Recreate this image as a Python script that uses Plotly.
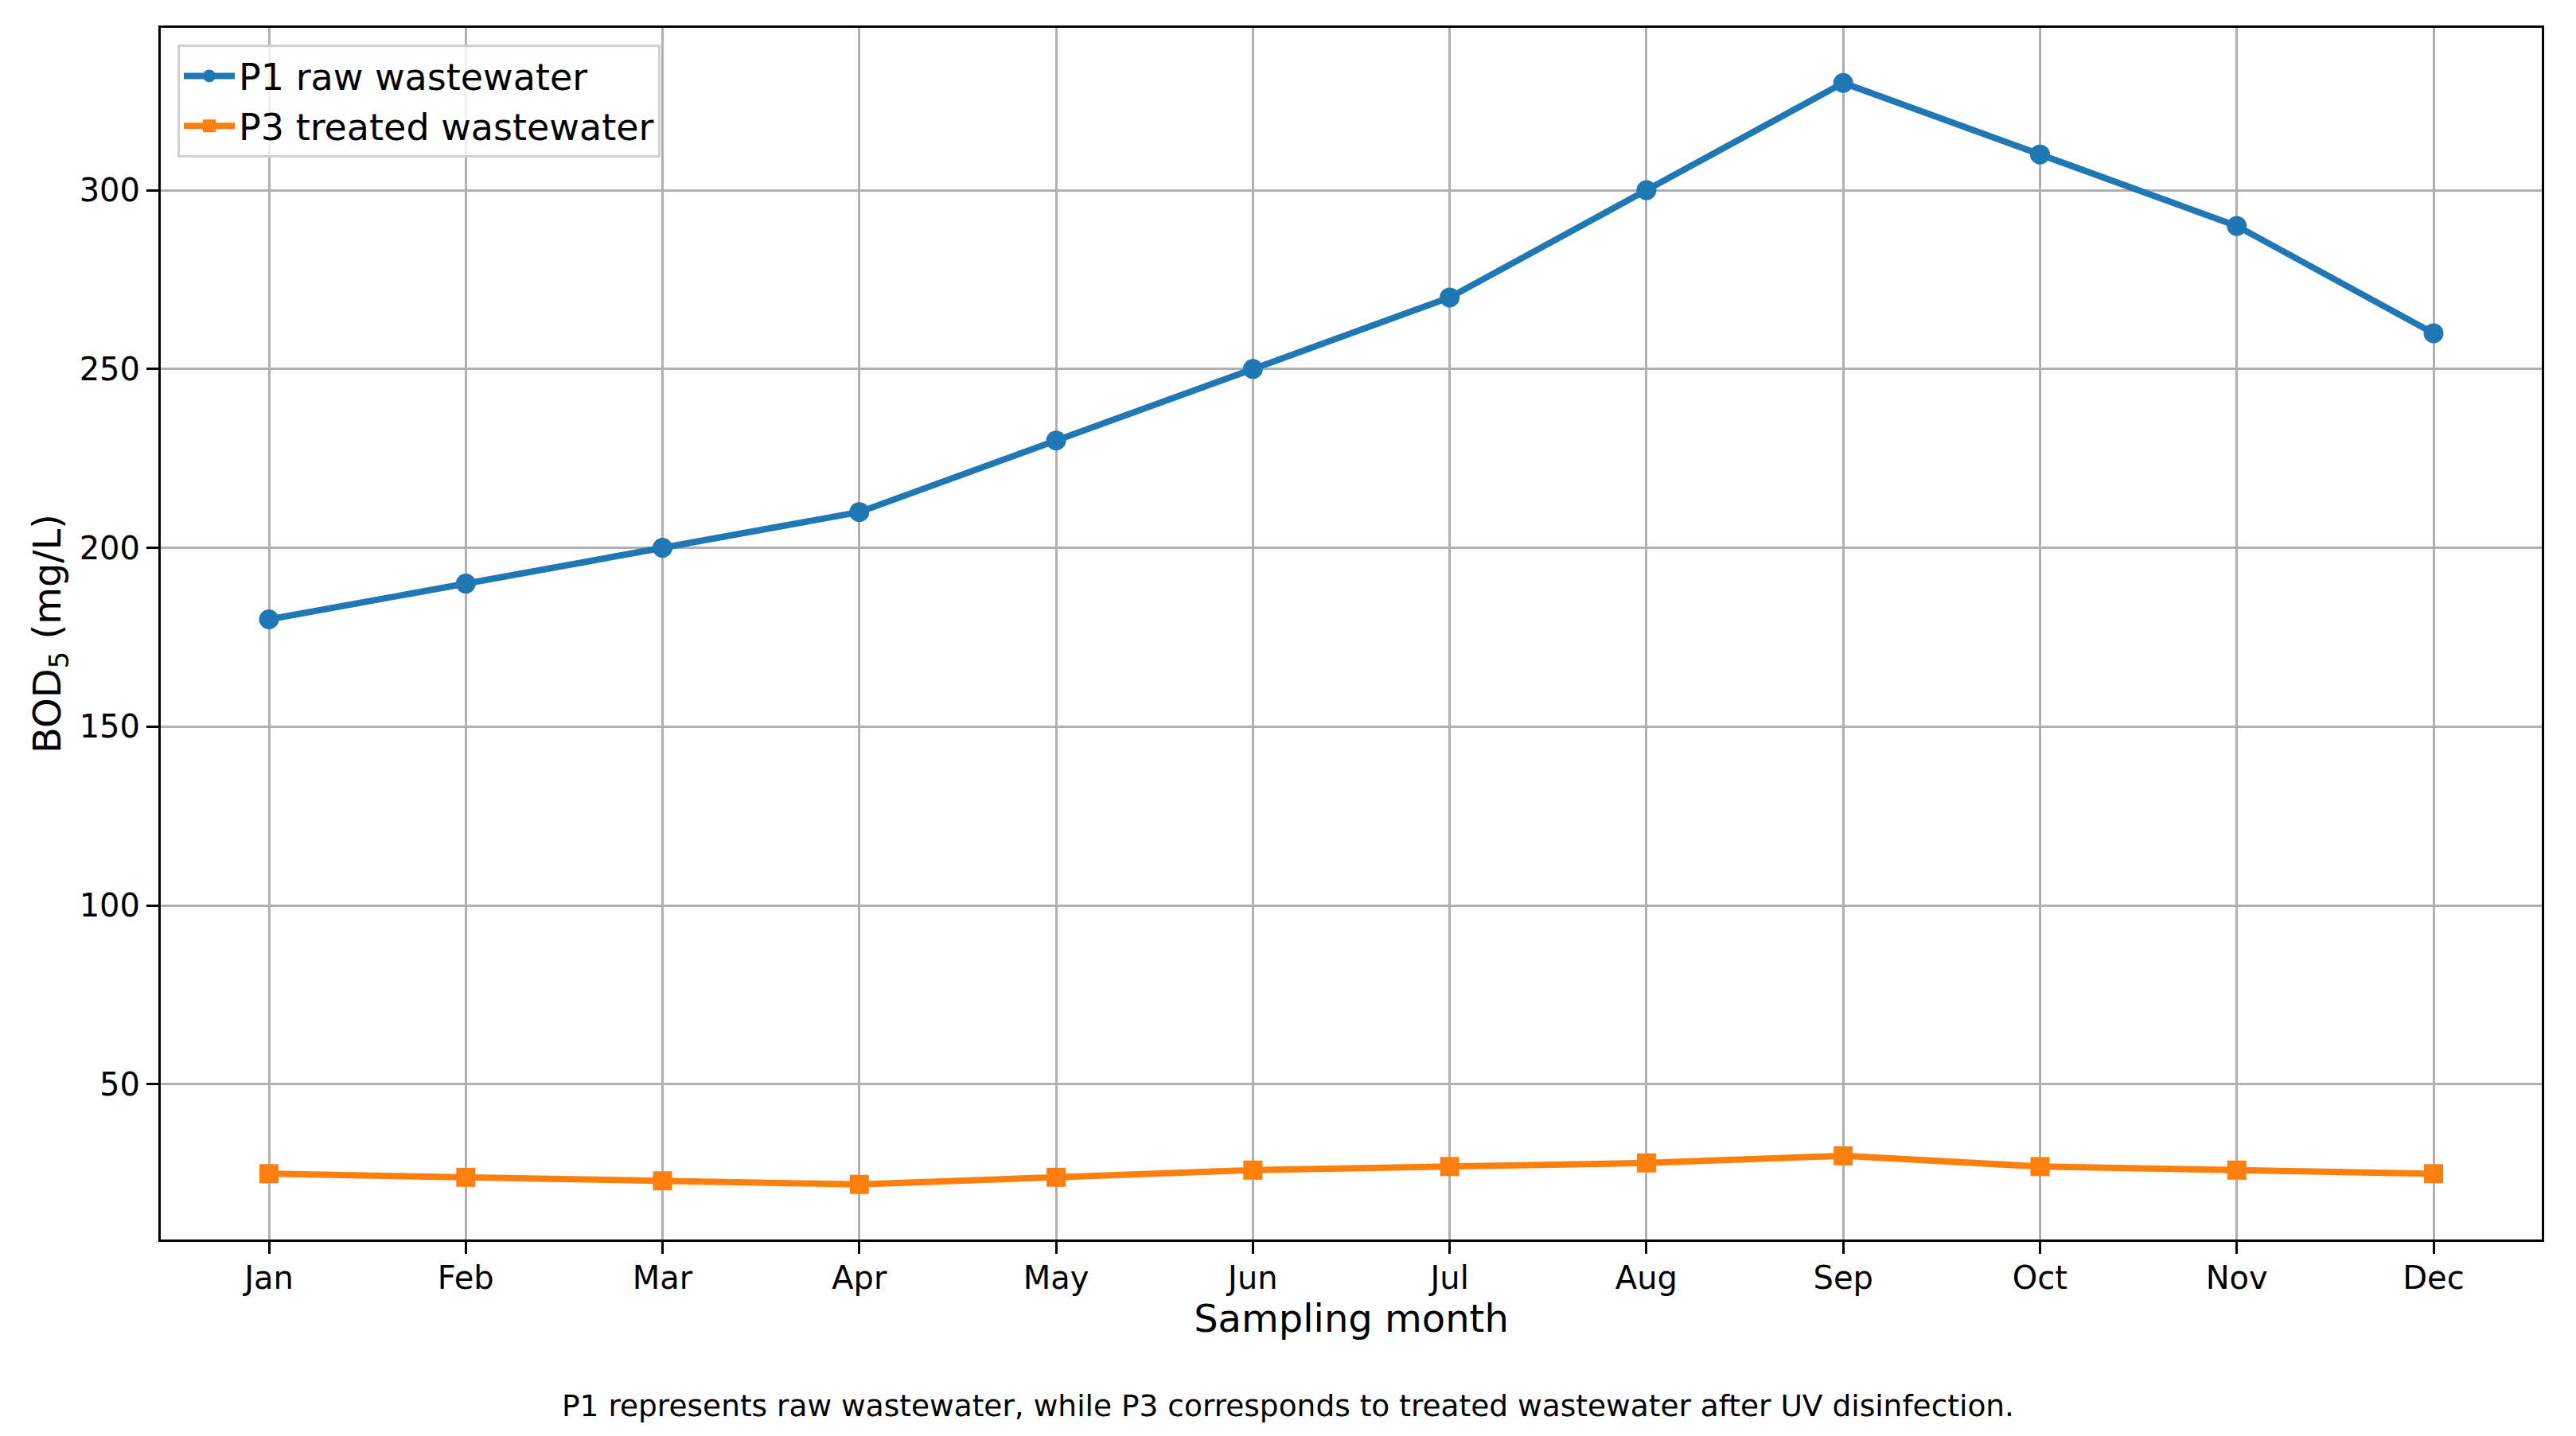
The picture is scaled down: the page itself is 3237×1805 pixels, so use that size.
import plotly.graph_objects as go

months = ["Jan", "Feb", "Mar", "Apr", "May", "Jun", "Jul", "Aug", "Sep", "Oct", "Nov", "Dec"]
p1_raw = [180, 190, 200, 210, 230, 250, 270, 300, 330, 310, 290, 260]
p3_treated = [25, 24, 23, 22, 24, 26, 27, 28, 30, 27, 26, 25]
y_ticks = [50, 100, 150, 200, 250, 300]

W, H = 3237, 1805
L, R, T, B = 202, 43, 35, 247
pw = W - L - R
ph = H - T - B

xs = list(range(len(months)))
font = "DejaVu Sans"

fig = go.Figure()
fig.add_trace(go.Scatter(
    x=xs, y=p1_raw, mode="lines+markers", name="P1 raw wastewater",
    line=dict(color="#1f77b4", width=8),
    marker=dict(symbol="circle", size=25, color="#1f77b4"),
))
fig.add_trace(go.Scatter(
    x=xs, y=p3_treated, mode="lines+markers", name="P3 treated wastewater",
    line=dict(color="#ff7f0e", width=8),
    marker=dict(symbol="square", size=24, color="#ff7f0e"),
))

allv = p1_raw + p3_treated
lo, hi = min(allv), max(allv)
m = (hi - lo) * 0.05

fig.update_layout(
    width=W, height=H,
    margin=dict(l=L, r=R, t=T, b=B),
    paper_bgcolor="white", plot_bgcolor="white",
    font=dict(family=font, size=40, color="black"),
    showlegend=True,
    legend=dict(
        x=(223 - L) / pw, y=1 - (56 - T) / ph, xanchor="left", yanchor="top",
        bgcolor="rgba(255,255,255,0.8)", bordercolor="#d0d0d0", borderwidth=3,
        font=dict(family=font, size=46), tracegroupgap=0, itemwidth=64,
    ),
    xaxis=dict(
        range=[-0.55, len(months) - 1 + 0.55],
        tickmode="array", tickvals=xs, ticktext=months,
        showgrid=True, gridcolor="#b0b0b0", gridwidth=3,
        showline=True, linecolor="black", linewidth=3, mirror=True,
        ticks="outside", ticklen=15, tickwidth=3, tickcolor="black",
        tickfont=dict(family=font, size=40), ticklabelstandoff=-4,
        title=dict(text="Sampling month", font=dict(family=font, size=48), standoff=8),
        zeroline=False,
    ),
    yaxis=dict(
        range=[lo - m, hi + m],
        tickmode="array", tickvals=y_ticks,
        showgrid=True, gridcolor="#b0b0b0", gridwidth=3,
        showline=True, linecolor="black", linewidth=3, mirror=True,
        ticks="outside", ticklen=15, tickwidth=3, tickcolor="black",
        tickfont=dict(family=font, size=40),
        title=dict(text="BOD<sub>5</sub> (mg/L)", font=dict(family=font, size=48), standoff=8),
        zeroline=False,
    ),
)

fig.add_annotation(
    text="P1 represents raw wastewater, while P3 corresponds to treated wastewater after UV disinfection.",
    xref="paper", yref="paper",
    x=(1618 - L) / pw, y=-(1767 - (T + ph)) / ph,
    xanchor="center", yanchor="middle", showarrow=False,
    font=dict(family=font, size=37.5, color="black"),
)

fig.write_html("out.html")
